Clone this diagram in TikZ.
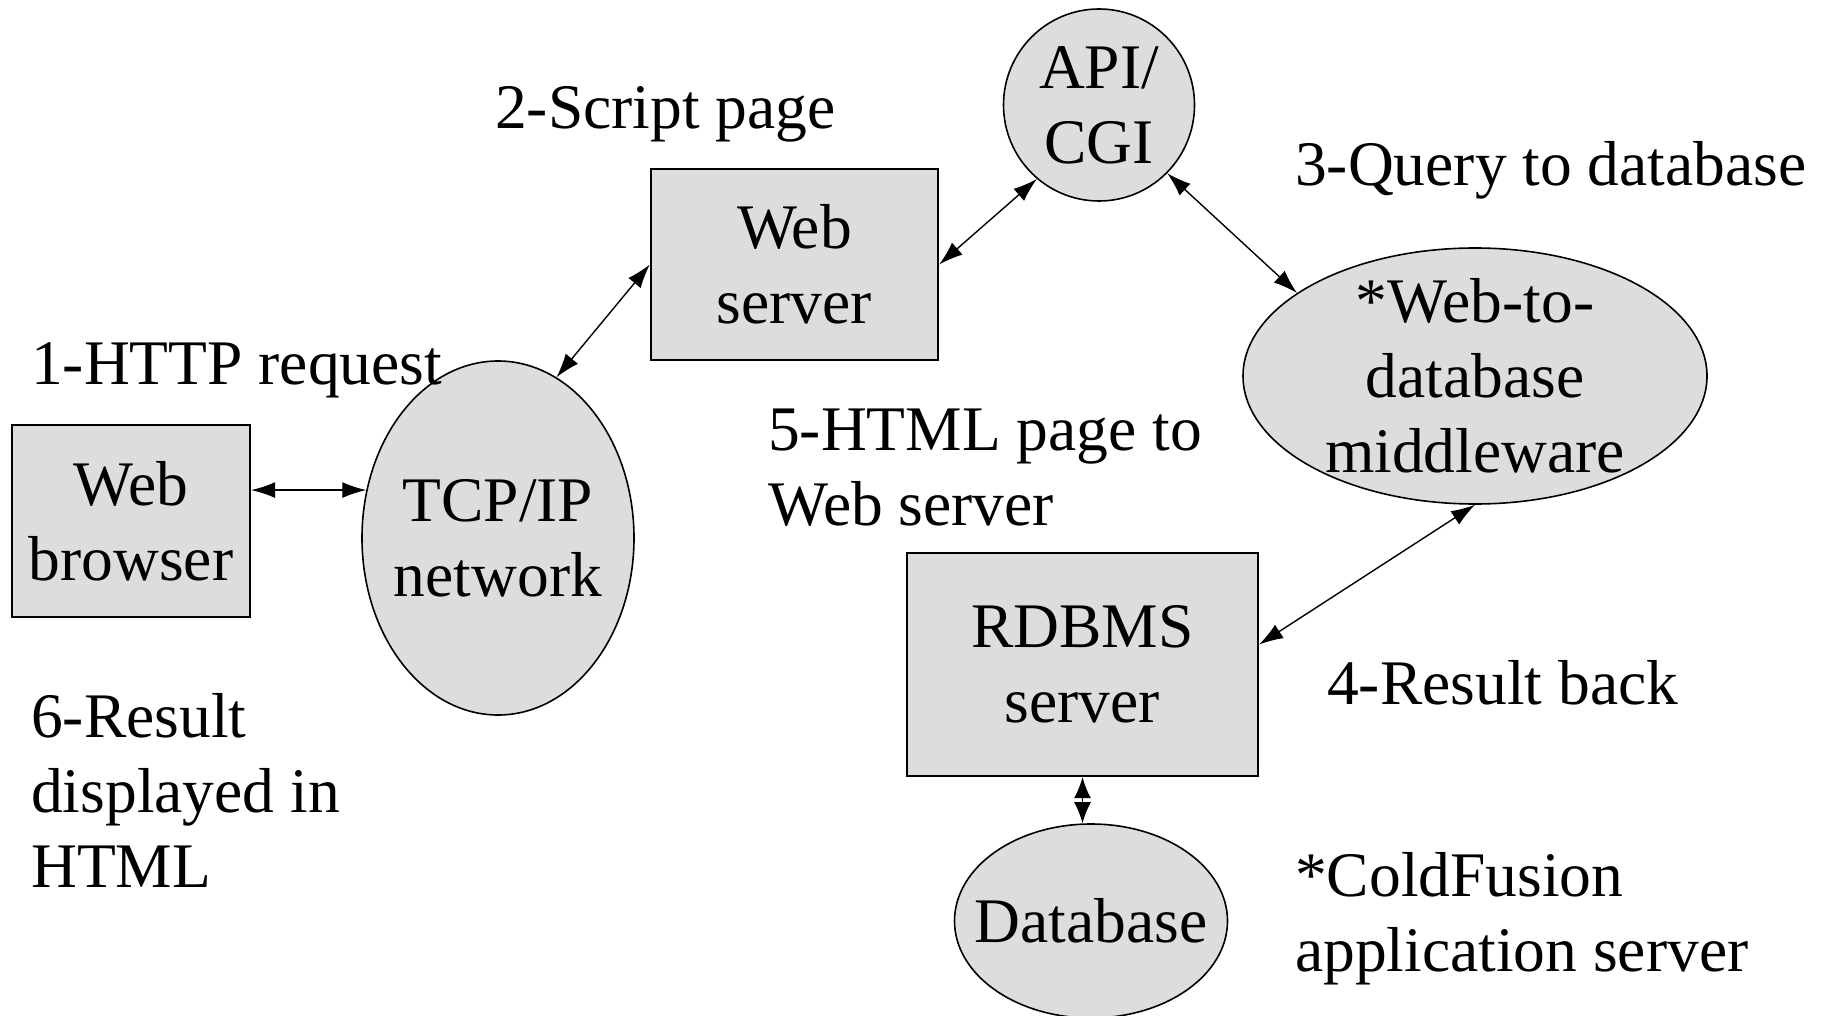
\documentclass[tikz,border=0pt]{standalone}
\usepackage{fontspec}
\setmainfont{Liberation Serif}
\usetikzlibrary{arrows.meta,shapes.geometric,calc}
\definecolor{shapegray}{HTML}{DDDDDD}

\begin{document}
\begin{tikzpicture}[x=1pt,y=-1pt,
  txt/.style={font=\fontsize{63.5}{75}\selectfont, inner sep=0pt, align=center},
  note/.style={font=\fontsize{63.5}{75}\selectfont, inner sep=0pt, align=left, anchor=base west},
  boxshape/.style={draw, line width=2.3pt, fill=shapegray, rectangle, inner sep=0pt},
  ovalshape/.style={draw, line width=1.6pt, fill=shapegray, ellipse, inner sep=0pt},
  link/.style={line width=1.4pt, {Latex[length=24pt,width=16pt]}-{Latex[length=24pt,width=16pt]}},
  shortlink/.style={line width=1.4pt, {Latex[length=21pt,width=17pt]}-{Latex[length=21pt,width=17pt]}}
]
\useasboundingbox (0,0) rectangle (1825,1016);

% boxes
\node[boxshape, minimum width=238pt, minimum height=192pt] (wb) at (131,521) {};
\node[boxshape, minimum width=287pt, minimum height=191pt] (ws) at (794.5,264.5) {};
\node[boxshape, minimum width=351pt, minimum height=223pt] (rd) at (1082.5,664.5) {};

% ovals
\node[ovalshape, minimum width=272pt, minimum height=354pt] (tcp) at (498,538) {};
\node[ovalshape, minimum width=191pt, minimum height=192pt] (api) at (1099,105) {};
\node[ovalshape, minimum width=464pt, minimum height=256pt] (mw) at (1475,376) {};
\node[ovalshape, minimum width=273pt, minimum height=194pt] (db) at (1091,921) {};

% shape texts
\node[txt] (wbt) at (wb.center) {Web\\browser};
\node[txt] (wst) at (ws.center) {Web\\server};
\node[txt] (rdt) at (rd.center) {RDBMS\\server};
\node[txt] (tcpt) at (tcp.center) {TCP/IP\\network};
\node[txt] (apit) at (api.center) {API/\\CGI};
\node[txt] (mwt) at (mw.center) {*Web-to-\\database\\middleware};
\node[txt] (dbt) at (db.center) {Database};

% connectors
\draw[link] (wb.east |- tcp.160) -- (tcp.160);
\draw[link] (tcp.70) -- (ws.west);
\draw[link] (ws.east) -- (api.230);
\draw[link] (api.-45) -- (mw.155);
\draw[link] (mw.south) -- ($(rd.east)+(0,-20)$);
\draw[shortlink] (rd.south) -- (rd.south |- db.north);

% step notes (base anchor sits on the last line)
\node[note] (n1) at (31,384) {1-HTTP request};
\node[note] (n2) at (495,129) {2-Script page};
\node[note] (n3) at (1295,186) {3-Query to database};
\node[note] (n4) at (1327,704) {4-Result back};
\node[note] (n5) at (768,525) {5-HTML page to\\Web server};
\node[note] (n6) at (31,887) {6-Result\\displayed in\\HTML};
\node[note] (n7) at (1295,971) {*ColdFusion\\application server};
\end{tikzpicture}
\end{document}
